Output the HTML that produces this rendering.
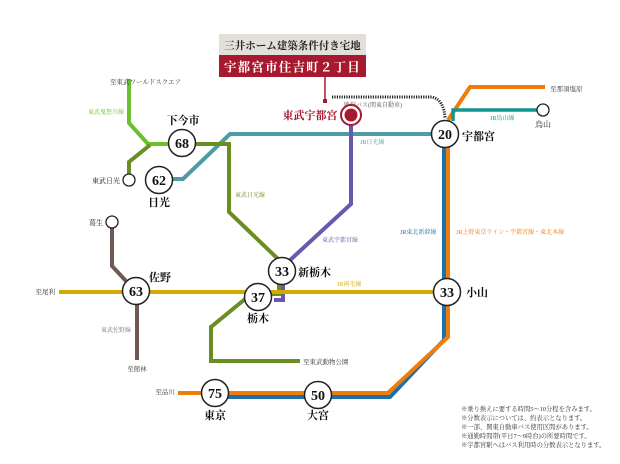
<!DOCTYPE html>
<html><head><meta charset="utf-8"><style>
html,body{margin:0;padding:0;background:#fff;}
svg{display:block;font-family:"Liberation Serif","Noto Serif CJK SC",serif;}
</style></head><body>
<svg width="620" height="464" viewBox="0 0 620 464" xmlns="http://www.w3.org/2000/svg">
<rect x="219" y="34" width="147" height="21" fill="#e3e0da"/>
<text x="292.5" y="49" font-size="10.5" font-weight="bold" text-anchor="middle" fill="#222">三井ホーム建築条件付き宅地</text>
<rect x="219" y="55" width="147" height="22" fill="#a6192e"/>
<text x="292.5" y="71.5" font-size="12.5" font-weight="bold" text-anchor="middle" fill="#fff" letter-spacing="1.2">宇都宮市住吉町２丁目</text>
<line x1="325" y1="77" x2="325" y2="101" stroke="#a6192e" stroke-width="1.5"/>
<rect x="323" y="99" width="4" height="4" fill="#a6192e"/>
<path d="M332 97 H432 Q444 100 445 118" fill="none" stroke="#222" stroke-width="3" stroke-dasharray="1.2 1.2"/>
<text x="373" y="107" font-size="6" text-anchor="middle" fill="#555">路線バス(関東自動車)</text>
<path d="M448 120 L470 87 H545" fill="none" stroke="#f07d0a" stroke-width="4"/>
<text x="550" y="91" font-size="6.5" fill="#333">至那須塩原</text>
<path d="M453 121 V110 H538" fill="none" stroke="#129690" stroke-width="3.5"/>
<circle cx="543" cy="110" r="6" fill="#fff" stroke="#222" stroke-width="1.3"/>
<text x="543" y="127" font-size="8" text-anchor="middle" fill="#222">烏山</text>
<text x="490" y="120" font-size="6" fill="#129690">JR烏山線</text>
<path d="M445 134 H230 L183 179 H160" fill="none" stroke="#4e9aa6" stroke-width="4"/>
<text x="360" y="144" font-size="6" fill="#4e9aa6">JR日光線</text>
<path d="M444 134 V340 L390 397 H318" fill="none" stroke="#1f6fa8" stroke-width="4"/>
<path d="M448 134 V337 L388 393 H178" fill="none" stroke="#f07d0a" stroke-width="4"/>
<path d="M318 397 H215" fill="none" stroke="#1f6fa8" stroke-width="4"/>
<text x="400" y="234" font-size="6" fill="#1f6fa8">JR東北新幹線</text>
<text x="456" y="234" font-size="6" fill="#f07d0a">JR上野東京ライン・宇都宮線・東北本線</text>
<text x="175" y="394" font-size="6.5" text-anchor="end" fill="#333">至品川</text>
<path d="M351 115 V204 L288 262" fill="none" stroke="#6a58b0" stroke-width="4"/>
<path d="M283 280 V300 H274" fill="none" stroke="#6a58b0" stroke-width="4"/>
<text x="322" y="242" font-size="6" fill="#6a58b0">東武宇都宮線</text>
<path d="M182 144 H229 V212 L278 259" fill="none" stroke="#6b8e23" stroke-width="4"/>
<path d="M279 282 V294 H270" fill="none" stroke="#6b8e23" stroke-width="4"/>
<path d="M250 295 L211 327 V361 H300" fill="none" stroke="#6b8e23" stroke-width="4"/>
<text x="235" y="197" font-size="6" fill="#6b8e23">東武日光線</text>
<text x="303" y="364" font-size="6.5" fill="#333">至東武動物公園</text>
<path d="M129 79 V123 L148 144 H175" fill="none" stroke="#6cbf2e" stroke-width="4"/>
<path d="M150 145 L129 162 V174" fill="none" stroke="#6b8e23" stroke-width="4"/>
<text x="110" y="84" font-size="6.5" fill="#333">至東武ワールドスクエア</text>
<text x="88" y="114" font-size="6" fill="#6cbf2e">東武鬼怒川線</text>
<circle cx="129" cy="180" r="6" fill="#fff" stroke="#222" stroke-width="1.3"/>
<text x="120" y="183" font-size="7" text-anchor="end" fill="#222">東武日光</text>
<path d="M112 228 V266 L126 281" fill="none" stroke="#6e5a52" stroke-width="4"/>
<path d="M137 295 V360" fill="none" stroke="#6e5a52" stroke-width="4"/>
<circle cx="112" cy="222" r="6" fill="#fff" stroke="#222" stroke-width="1.3"/>
<text x="103" y="225" font-size="7" text-anchor="end" fill="#222">葛生</text>
<text x="101" y="332" font-size="6" fill="#777">東武佐野線</text>
<text x="137" y="371" font-size="6.5" text-anchor="middle" fill="#333">至館林</text>
<path d="M59 292 H447" fill="none" stroke="#d4aa00" stroke-width="4"/>
<text x="55" y="294" font-size="6.5" text-anchor="end" fill="#333">至尾利</text>
<text x="337" y="286" font-size="6" fill="#d4aa00">JR両毛線</text>
<circle cx="351" cy="115" r="10" fill="#fff" stroke="#a6192e" stroke-width="2"/>
<circle cx="351" cy="115" r="6.5" fill="#a6192e"/>
<text x="310" y="119" font-size="11" font-weight="bold" text-anchor="middle" fill="#a6192e">東武宇都宮</text>
<g fill="#fff" stroke="#222" stroke-width="1.5">
<circle cx="445" cy="134" r="13.5"/>
<circle cx="447" cy="292" r="13.5"/>
<circle cx="318" cy="395" r="13.5"/>
<circle cx="215" cy="393" r="13.5"/>
<circle cx="282" cy="271" r="13.5"/>
<circle cx="258" cy="297" r="13.5"/>
<circle cx="136" cy="291" r="13.5"/>
<circle cx="182" cy="143" r="13.5"/>
<circle cx="159" cy="180" r="13.5"/>
</g>
<g font-size="14" font-weight="bold" text-anchor="middle" fill="#111">
<text x="445" y="139">20</text>
<text x="447" y="297">33</text>
<text x="318" y="400">50</text>
<text x="215" y="398">75</text>
<text x="282" y="276">33</text>
<text x="258" y="302">37</text>
<text x="136" y="296">63</text>
<text x="182" y="148">68</text>
<text x="159" y="185">62</text>
</g>
<g font-size="11" font-weight="bold" fill="#111">
<text x="462" y="140">宇都宮</text>
<text x="466" y="296">小山</text>
<text x="318" y="419" text-anchor="middle">大宮</text>
<text x="215" y="419" text-anchor="middle">東京</text>
<text x="298" y="276">新栃木</text>
<text x="258" y="322" text-anchor="middle">栃木</text>
<text x="149" y="281">佐野</text>
<text x="183" y="124" text-anchor="middle">下今市</text>
<text x="159" y="206" text-anchor="middle">日光</text>
</g>
<g font-size="6.3" fill="#333">
<text x="461" y="411">※乗り換えに要する時間5～10分程を含みます。</text>
<text x="461" y="420">※分数表示については、約表示となります。</text>
<text x="461" y="429">※一部、関東自動車バス使用区間があります。</text>
<text x="461" y="438">※通勤時間帯(平日7～9時台)の所要時間です。</text>
<text x="461" y="447">※宇都宮駅へはバス利用時の分数表示となります。</text>
</g>
</svg>
</body></html>
